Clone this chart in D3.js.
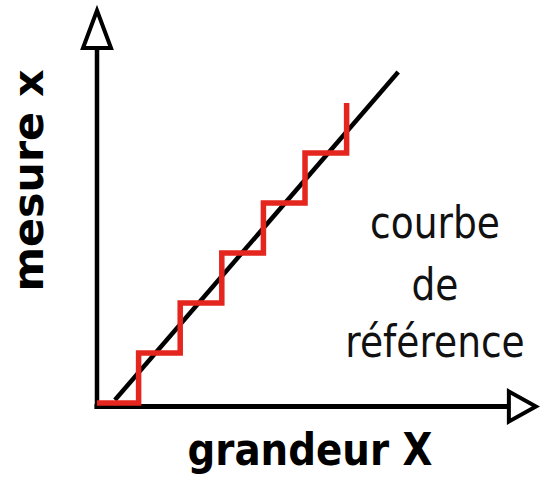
<!DOCTYPE html>
<html>
<head>
<meta charset="utf-8">
<script src="https://cdn.jsdelivr.net/npm/d3@7"></script>
<style>
  html, body { margin: 0; padding: 0; background: #fff; }
  svg { display: block; }
</style>
</head>
<body>
<div id="chart"></div>
<script>
// quantized measurement: each step of grandeur X gives one step of mesure x
const stairX = [0, 1, 2, 3, 4, 5, 6];
const stairY = [0, 1, 2, 3, 4, 5, 6];
// reference curve (straight line), ends
const refX = [0.43, 7.24];
const refY = [0.06, 6.62];
const labelY = 'mesure x';
const labelX = 'grandeur X';
const refLabel = ['courbe', 'de', 'référence'];

const width = 542, height = 481;

const svg = d3.select('#chart').append('svg')
  .attr('width', width)
  .attr('height', height);

// one unit = one step of the staircase
const xScale = d3.scaleLinear().domain([0, 10.6]).range([97, 538]);
const yScale = d3.scaleLinear().domain([0, 8]).range([403, 3]);

const x0 = xScale(0), y0 = yScale(0) + 3.5;

// axes
svg.append('line')
  .attr('x1', x0).attr('y1', y0 + 2.5)
  .attr('x2', x0).attr('y2', yScale(7.1))
  .attr('stroke', '#000').attr('stroke-width', 4.5);

svg.append('line')
  .attr('x1', x0 - 2.5).attr('y1', y0)
  .attr('x2', xScale(9.9)).attr('y2', y0)
  .attr('stroke', '#000').attr('stroke-width', 5);

// open arrow heads
const yTip = yScale(7.85), yBase = yScale(7.1);
svg.append('path')
  .attr('d', `M${x0},${yTip} L${x0 - 14},${yBase} L${x0 + 14},${yBase} Z`)
  .attr('fill', '#fff').attr('stroke', '#000')
  .attr('stroke-width', 4).attr('stroke-linejoin', 'miter');

const xTip = xScale(10.55), xBase = xScale(9.9);
svg.append('path')
  .attr('d', `M${xTip},${y0} L${xBase},${y0 - 15} L${xBase},${y0 + 15} Z`)
  .attr('fill', '#fff').attr('stroke', '#000')
  .attr('stroke-width', 4).attr('stroke-linejoin', 'miter');

// reference line
svg.append('path')
  .datum(refX.map((d, i) => [d, refY[i]]))
  .attr('d', d3.line().x(d => xScale(d[0])).y(d => yScale(d[1])))
  .attr('fill', 'none')
  .attr('stroke', '#000')
  .attr('stroke-width', 4.5);

// red staircase
svg.append('path')
  .datum(stairX.map((d, i) => [d, stairY[i]]))
  .attr('d', d3.line()
    .x(d => xScale(d[0]))
    .y(d => yScale(d[1]))
    .curve(d3.curveStepAfter))
  .attr('fill', 'none')
  .attr('stroke', '#e5261e')
  .attr('stroke-width', 5.5)
  .attr('stroke-linejoin', 'miter');

// labels
svg.append('text')
  .attr('transform', 'translate(43,180.5) rotate(-90)')
  .attr('text-anchor', 'middle')
  .style('font-family', 'DejaVu Sans')
  .style('font-weight', 'bold')
  .style('font-size', '42.8px')
  .text(labelY);

svg.append('text')
  .attr('transform', 'translate(310,465) scale(1,1.15)')
  .attr('text-anchor', 'middle')
  .style('font-family', 'DejaVu Sans')
  .style('font-weight', 'bold')
  .style('font-size', '38.8px')
  .text(labelX);

const baselines = [238, 300, 357];
svg.selectAll('.ref-label')
  .data(refLabel)
  .enter().append('text')
    .attr('class', 'ref-label')
    .attr('transform', (d, i) => `translate(435,${baselines[i]}) scale(1,1.2)`)
    .attr('text-anchor', 'middle')
    .style('font-family', 'DejaVu Sans')
    .style('font-size', '37.6px')
    .style('fill', '#111')
    .text(d => d);
</script>
</body>
</html>
